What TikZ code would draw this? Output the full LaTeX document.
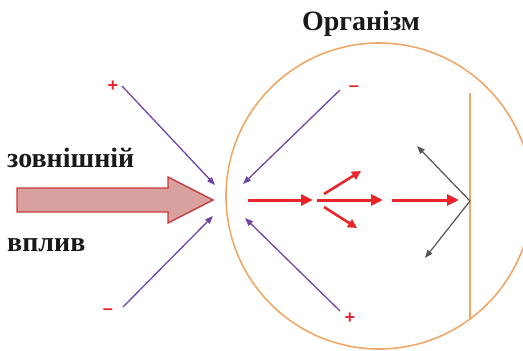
\documentclass[tikz,border=0pt]{standalone}
\usepackage{fontspec}
\setmainfont{Liberation Serif}
\newfontfamily\signfont{Liberation Sans}
\usetikzlibrary{arrows.meta}
\definecolor{orgorange}{HTML}{F0A868}
\definecolor{vpurple}{HTML}{7044A8}
\definecolor{sred}{HTML}{E8262A}
\definecolor{bigfill}{HTML}{D9A0A0}
\definecolor{bigline}{HTML}{C83A3A}
\definecolor{greyarr}{HTML}{555555}
\tikzset{
  lbl/.style={font=\fontsize{28}{30}\selectfont\bfseries, text=black!90, inner sep=0pt},
  sgn/.style={font=\signfont\fontsize{18}{18}\selectfont\bfseries, text=sred, inner sep=0pt},
  purparr/.style={draw=vpurple, line width=1.3pt, -{Triangle[length=8pt,width=6pt]}},
  redarr/.style={draw=sred, line width=3pt, -{Triangle[length=12pt,width=11pt]}},
  redsmall/.style={draw=sred, line width=2.6pt, -{Triangle[length=9pt,width=9pt]}},
  greyarrow/.style={draw=greyarr, line width=1.2pt, -{Triangle[length=8pt,width=6pt]}},
}
\begin{document}
\begin{tikzpicture}[x=1pt,y=-1pt]
\useasboundingbox (0,0) rectangle (523,351);
% organism circle
\draw[orgorange, line width=1.6pt] (379,196) circle[radius=153];
\draw[orgorange, line width=2pt] (470,93) -- (470,320);
% labels
\node[lbl] (org) at (361,24) {Організм};
\node[lbl, anchor=west] (zov) at (7,158) {зовнішній};
\node[lbl, anchor=west] (vpl) at (7,245) {вплив};
% big arrow
\draw[fill=bigfill, draw=bigline, line width=1.4pt, line join=miter]
  (17,188) -- (168,188) -- (168,177) -- (213,200) -- (168,223) -- (168,212) -- (17,212) -- cycle;
% signs
\node[sgn] (s1) at (113,86) {+};
\node[sgn] (s2) at (108,312) {–};
\node[sgn] (s3) at (354,89) {–};
\node[sgn] (s4) at (350,318) {+};
% purple arrows
\coordinate (p1a) at (122,86);  \coordinate (p1b) at (215,185);
\coordinate (p2a) at (123,307); \coordinate (p2b) at (213,216);
\coordinate (p3a) at (340,90);  \coordinate (p3b) at (243,184);
\coordinate (p4a) at (340,311); \coordinate (p4b) at (245,218);
\draw[purparr] (p1a) -- (p1b);
\draw[purparr] (p2a) -- (p2b);
\draw[purparr] (p3a) -- (p3b);
\draw[purparr] (p4a) -- (p4b);
% red arrows
\coordinate (r1a) at (248,200); \coordinate (r1b) at (313,200);
\coordinate (r2a) at (317,200); \coordinate (r2b) at (383,200);
\coordinate (r3a) at (392,200); \coordinate (r3b) at (459,200);
\coordinate (r4a) at (324,194); \coordinate (r4b) at (361,171);
\coordinate (r5a) at (324,207); \coordinate (r5b) at (357,228);
\draw[redarr] (r1a) -- (r1b);
\draw[redarr] (r2a) -- (r2b);
\draw[redarr] (r3a) -- (r3b);
\draw[redsmall] (r4a) -- (r4b);
\draw[redsmall] (r5a) -- (r5b);
% grey arrows
\coordinate (g0) at (470,201);
\coordinate (g1) at (417,146);
\coordinate (g2) at (425,258);
\draw[greyarrow] (g0) -- (g1);
\draw[greyarrow] (g0) -- (g2);
\end{tikzpicture}
\end{document}
